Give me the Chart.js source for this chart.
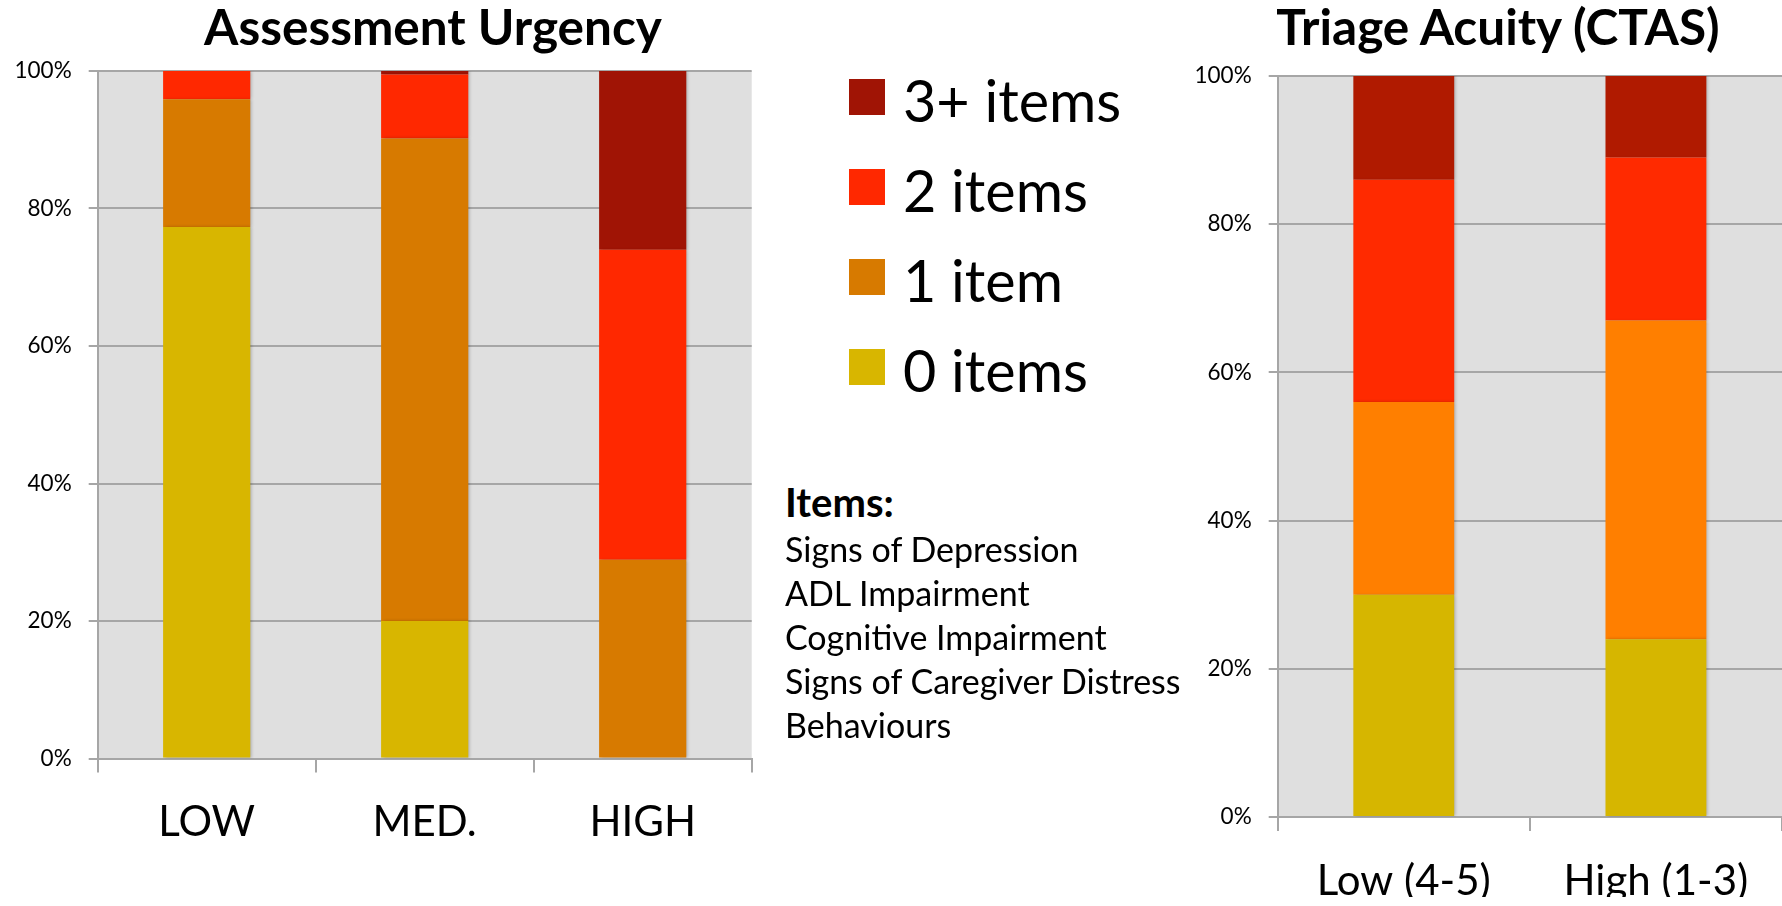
<!DOCTYPE html>
<html>
<head>
<meta charset="utf-8">
<script src="https://cdn.jsdelivr.net/npm/chart.js@4.4.1/dist/chart.umd.min.js"></script>
<style>
  html, body { margin: 0; padding: 0; background: #fff; }
  body { width: 1782px; height: 906px; position: relative; overflow: hidden; font-family: Lato, "Open Sans", sans-serif; color: #000; }
  .box { position: absolute; }
  .title { position: absolute; font-weight: 700; font-size: 49.5px; line-height: 1.2; white-space: nowrap; transform: translateX(-50%); }
  .legend-row { position: absolute; left: 849px; height: 90px; }
  .legend-swatch { position: absolute; left: 0; width: 36px; height: 36px; }
  .legend-text { position: absolute; left: 54px; top: -14px; font-size: 57.5px; line-height: 1.2; white-space: nowrap; }
  .items-head { position: absolute; left: 785px; top: 477.5px; font-weight: 700; font-size: 40px; line-height: 1.2; }
  .items-list { position: absolute; left: 785px; top: 526.5px; font-size: 34px; line-height: 44px; white-space: nowrap; }
</style>
</head>
<body>
<div class="title" style="left:433px; top:-3px;">Assessment Urgency</div>
<div class="title" style="left:1498px; top:-3px;">Triage Acuity (CTAS)</div>

<div class="box" style="left:0; top:0; width:760px; height:906px;"><canvas id="urgency"></canvas></div>
<div class="box" style="left:1180px; top:0; width:602px; height:906px;"><canvas id="ctas"></canvas></div>

<div id="legend"></div>
<div class="items-head">Items:</div>
<div class="items-list" id="items"></div>

<script>
// Stack segments: number of screening items flagged
const seriesLabels = ['0 items', '1 item', '2 items', '3+ items'];

// Assessment urgency (percent of patients)
const urgencyCategories = ['LOW', 'MED.', 'HIGH'];
const urgency0 = [77.3, 20.0, 0];
const urgency1 = [18.6, 70.2, 28.9];
const urgency2 = [4.1, 9.3, 45.1];
const urgency3 = [0, 0.5, 26.0];
const urgencyColors = ['#D8B600', '#D77A00', '#FF2800', '#A01405'];

// Triage acuity, CTAS level (percent of patients)
const ctasCategories = ['Low (4-5)', 'High (1-3)'];
const ctas0 = [30.0, 24.0];
const ctas1 = [26.0, 43.0];
const ctas2 = [30.0, 22.0];
const ctas3 = [14.0, 11.0];
const ctasColors = ['#D6B600', '#FF7F00', '#FF2A00', '#B01A00'];

// Percentage axis ticks
const percentTicks = [0, 20, 40, 60, 80, 100];

// Screening items listed beside the charts
const itemNames = ['Signs of Depression', 'ADL Impairment', 'Cognitive Impairment', 'Signs of Caregiver Distress', 'Behaviours'];

const FONT = 'Lato';
const GRID = '#A6A6A6';

// gray plot background
const plotBackground = {
  id: 'plotBackground',
  beforeDraw(chart) {
    const { ctx, chartArea: a } = chart;
    ctx.save();
    ctx.fillStyle = '#DFDFDF';
    ctx.fillRect(a.left, a.top, a.right - a.left, a.bottom - a.top);
    ctx.restore();
  }
};

// soft drop shadow behind the bars
const barShadow = {
  id: 'barShadow',
  beforeDatasetsDraw(chart) {
    const ctx = chart.ctx;
    ctx.save();
    ctx.shadowColor = 'rgba(0,0,0,0.22)';
    ctx.shadowBlur = 3;
    ctx.shadowOffsetX = 1.5;
    ctx.shadowOffsetY = 0;
  },
  afterDatasetsDraw(chart) {
    chart.ctx.restore();
  }
};

function makeChart(id, categories, values, colors, axisLeft, areaTop, areaBottom, rightPad, canvasH) {
  const xAxisH = 80;
  return new Chart(document.getElementById(id), {
    type: 'bar',
    data: {
      labels: categories,
      datasets: values.map((v, i) => ({
        label: seriesLabels[i],
        data: v,
        backgroundColor: colors[i],
        borderWidth: 0,
        barPercentage: 0.4,
        categoryPercentage: 1.0
      }))
    },
    options: {
      responsive: true,
      maintainAspectRatio: false,
      animation: false,
      events: [],
      layout: {
        autoPadding: false,
        padding: { left: 0, right: rightPad, top: areaTop, bottom: canvasH - areaBottom - xAxisH }
      },
      plugins: { legend: { display: false }, title: { display: false }, tooltip: { enabled: false } },
      scales: {
        x: {
          stacked: true,
          offset: true,
          afterFit(scale) { scale.height = xAxisH; },
          grid: { offset: true, drawOnChartArea: false, drawTicks: true, tickLength: 14, color: GRID, lineWidth: 2 },
          border: { display: true, color: GRID, width: 2 },
          ticks: { color: '#000', font: { family: FONT, size: 42 }, padding: 25, maxRotation: 0, autoSkip: false }
        },
        y: {
          stacked: true,
          min: percentTicks[0],
          max: percentTicks[percentTicks.length - 1],
          afterFit(scale) { scale.width = axisLeft; },
          afterBuildTicks(scale) { scale.ticks = percentTicks.map(v => ({ value: v })); },
          grid: { color: GRID, lineWidth: 2, drawTicks: true, tickLength: 9 },
          border: { display: true, color: GRID, width: 2 },
          ticks: { color: '#000', font: { family: FONT, size: 22.5 }, padding: 17, callback: v => v + '%' }
        }
      }
    },
    plugins: [plotBackground, barShadow]
  });
}

makeChart('urgency', urgencyCategories, [urgency0, urgency1, urgency2, urgency3], urgencyColors,
  97.7, 71, 758.5, 760 - 751.7, 906);
makeChart('ctas', ctasCategories, [ctas0, ctas1, ctas2, ctas3], ctasColors,
  97.7, 76, 817, 0, 906);

// legend: highest count on top
const legend = document.getElementById('legend');
for (let i = seriesLabels.length - 1, row = 0; i >= 0; i--, row++) {
  const r = document.createElement('div');
  r.className = 'legend-row';
  r.style.top = (79 + row * 90) + 'px';
  r.innerHTML = '<div class="legend-swatch" style="background:' + urgencyColors[i] + '"></div>' +
                '<div class="legend-text">' + seriesLabels[i] + '</div>';
  legend.appendChild(r);
}

document.getElementById('items').innerHTML = itemNames.map(s => '<div>' + s + '</div>').join('');
</script>
</body>
</html>
